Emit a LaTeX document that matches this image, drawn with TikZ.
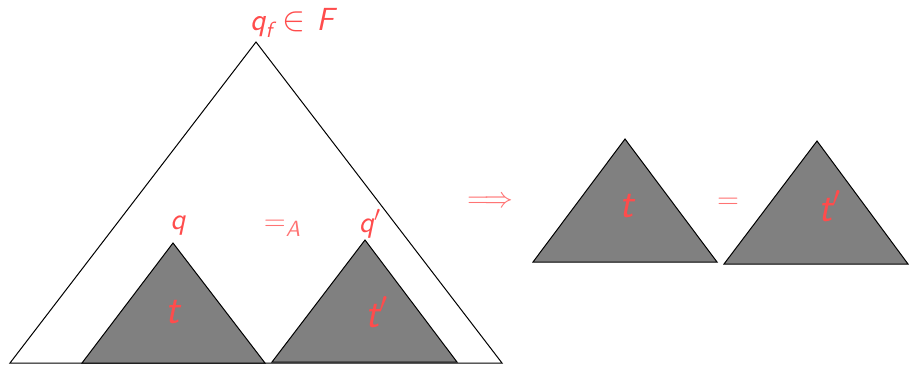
\documentclass[tikz,border=0pt]{standalone}
\usepackage{amssymb}
\tikzset{
  tri/.style={draw=black, fill=gray, line width=0.5pt},
  outer/.style={draw=black, line width=0.5pt},
  lbl/.style={text=red!70, font=\sffamily\slshape\fontsize{15}{17}\selectfont},
  toplbl/.style={text=red!70, font=\sffamily\slshape\fontsize{16}{18}\selectfont},
  treelbl/.style={text=red!70, font=\sffamily\slshape\fontsize{21}{24}\selectfont},
  rellbl/.style={text=red!55, font=\sffamily\slshape\fontsize{14}{16}\selectfont}
}
\newcommand{\sub}[1]{\raisebox{-.45ex}{\fontsize{11}{12}\selectfont #1}}
\begin{document}
\begin{tikzpicture}[x=0.5pt,y=-0.5pt]
  \useasboundingbox (0,0) rectangle (909,365);
  % vertices
  \coordinate (top) at (256,42);
  \coordinate (topL) at (10,363);
  \coordinate (topR) at (502,363);
  \coordinate (tA) at (173,243);
  \coordinate (tL) at (82,363);
  \coordinate (tR) at (265,363);
  \coordinate (sA) at (365,240);
  \coordinate (sL) at (272,362);
  \coordinate (sR) at (457,362);
  \coordinate (uA) at (625,139);
  \coordinate (uL) at (533,262);
  \coordinate (uR) at (717,262);
  \coordinate (vA) at (817,141);
  \coordinate (vL) at (724,264);
  \coordinate (vR) at (908,264);
  % big tree and subtrees
  \draw[outer] (topL) -- (top) -- (topR) -- cycle;
  \draw[tri] (tL) -- (tA) -- (tR) -- cycle;
  \draw[tri] (sL) -- (sA) -- (sR) -- cycle;
  \draw[tri] (uL) -- (uA) -- (uR) -- cycle;
  \draw[tri] (vL) -- (vA) -- (vR) -- cycle;
  % labels
  \node[toplbl, inner sep=0pt] (qf) at (292,23) {q\sub{f}\,\,$\in$\,\,F};
  \node[lbl] (q) at (178,226) {q};
  \node[rellbl] (eqA) at (282,228) {$=$\sub{A}};
  \node[lbl] (qp) at (370,224) {q$'$};
  \node[treelbl] (t) at (173,312) {t};
  \node[treelbl] (tp) at (377,312) {t$'$};
  \node[rellbl, inner sep=1pt] (impl) at (490,202) {$\Longrightarrow$};
  \node[treelbl] (t2) at (627,206) {t};
  \node[rellbl] (eq) at (728,203) {$=$};
  \node[treelbl] (tp2) at (830,206) {t$'$};
\end{tikzpicture}
\end{document}
